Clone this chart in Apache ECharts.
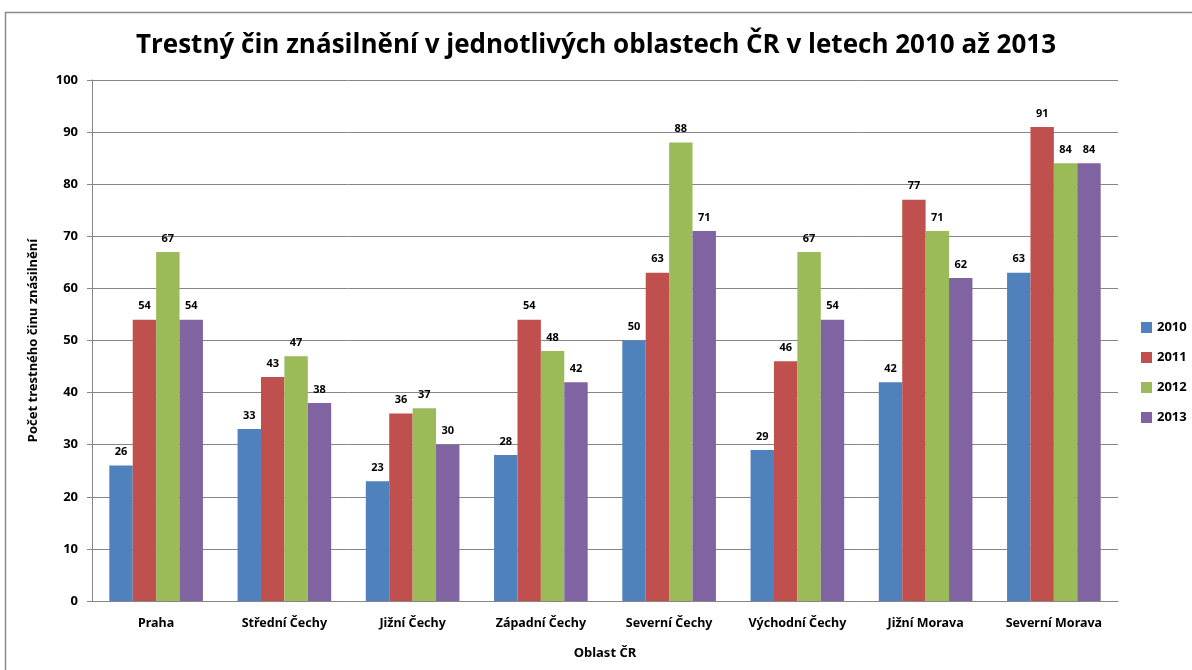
<!DOCTYPE html>
<html><head><meta charset="utf-8">
<script src="https://cdn.jsdelivr.net/npm/echarts@6/dist/echarts.min.js"></script>
<style>html,body{margin:0;padding:0;background:#fff}#c{width:1192px;height:670px}</style>
</head><body><div id="c"></div>
<script>
const categories = ['Praha','Střední Čechy','Jižní Čechy','Západní Čechy','Severní Čechy','Východní Čechy','Jižní Morava','Severní Morava'];
const years = ['2010','2011','2012','2013'];
const v2010 = [26,33,23,28,50,29,42,63];
const v2011 = [54,43,36,54,63,46,77,91];
const v2012 = [67,47,37,48,88,67,71,84];
const v2013 = [54,38,30,42,71,54,62,84];
const colors = ['#4F81BD','#C0504D','#9BBB59','#8064A2'];
const F = '"Noto Sans", sans-serif';
const chart = echarts.init(document.getElementById('c'));
const mk = (name, data, i) => ({
  name, type:'bar', data, barGap:'0%', barCategoryGap:'27%',
  itemStyle:{color:colors[i]},
  label:{show:true, position:'top', distance:8, fontFamily:F, fontWeight:'bold', fontSize:11, color:'#000'}
});
chart.setOption({
  animation:false,
  title:{text:'Trestný čin znásilnění v jednotlivých oblastech ČR v letech 2010 až 2013', left:'center', top:28,
    textStyle:{fontFamily:'"Open Sans", sans-serif', fontWeight:'bold', fontSize:26, color:'#000'}},
  graphic:[{type:'rect', shape:{x:5.5,y:12.5,width:1200,height:700}, style:{fill:'none', stroke:'#8a8a8a', lineWidth:1.5}, silent:true}],
  legend:{orient:'vertical', left:1136, top:316, itemWidth:11, itemHeight:11, itemGap:17, icon:'rect',
    textStyle:{fontFamily:F, fontWeight:'bold', fontSize:13, color:'#000'}},
  grid:{left:92, right:74, top:80, bottom:69, containLabel:false},
  xAxis:{type:'category', data:categories, name:'Oblast ČR', nameLocation:'middle', nameGap:46,
    nameTextStyle:{fontFamily:F, fontWeight:'bold', fontSize:13, color:'#000'},
    axisLine:{lineStyle:{color:'#868686'}}, axisTick:{show:false},
    axisLabel:{interval:0, fontFamily:F, fontWeight:'bold', fontSize:12.5, color:'#000', margin:16}},
  yAxis:{type:'value', min:0, max:100, interval:10, name:'Počet trestného činu znásilnění', nameLocation:'middle', nameGap:52, nameRotate:90,
    nameTextStyle:{fontFamily:F, fontWeight:'bold', fontSize:13, color:'#000'},
    axisLine:{show:true, lineStyle:{color:'#868686'}}, axisTick:{show:true, length:5, inside:false, lineStyle:{color:'#868686'}},
    splitLine:{lineStyle:{color:'#868686'}},
    axisLabel:{fontFamily:F, fontWeight:'bold', fontSize:13, color:'#000', margin:14}},
  series:[mk(years[0],v2010,0), mk(years[1],v2011,1), mk(years[2],v2012,2), mk(years[3],v2013,3)]
});
</script></body></html>
